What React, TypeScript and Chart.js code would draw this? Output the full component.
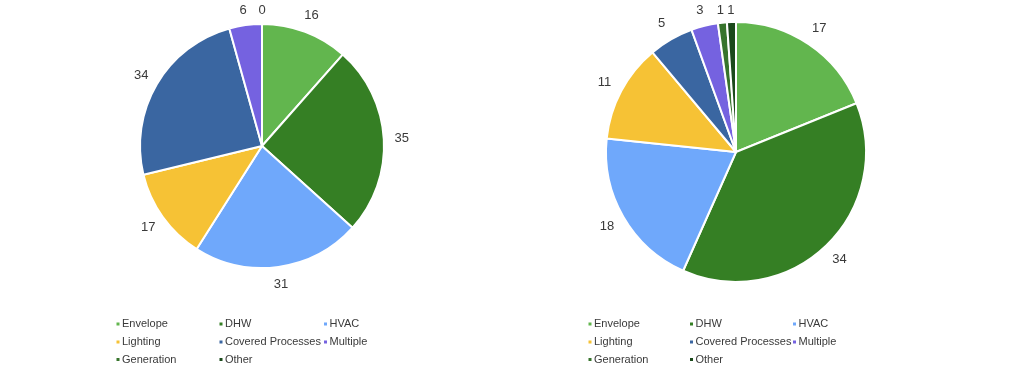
import React, { useEffect, useRef } from "react";
import { Chart, registerables } from "chart.js";

Chart.register(...registerables);

const categories = [
  "Envelope",
  "DHW",
  "HVAC",
  "Lighting",
  "Covered Processes",
  "Multiple",
  "Generation",
  "Other",
];
const leftValues = [16, 35, 31, 17, 34, 6, 0, 0];
const rightValues = [17, 34, 18, 11, 5, 3, 1, 1];
const sliceColors = [
  "#62b64e",
  "#357f24",
  "#6fa8fb",
  "#f6c235",
  "#3a66a1",
  "#7562e0",
  "#37742c",
  "#1b4a1b",
];

const FONT = "'Liberation Sans', Arial, sans-serif";
const TEXT_COLOR = "#3a3a3a";

const outLabelsPlugin = {
  id: "outLabels",
  afterDatasetsDraw(chart: any, _args: any, opts: any) {
    const ctx = chart.ctx as CanvasRenderingContext2D;
    const meta = chart.getDatasetMeta(0);
    const data = chart.data.datasets[0].data as number[];
    const labels = chart.data.labels as string[];
    const colors = chart.data.datasets[0].backgroundColor as string[];
    ctx.save();
    // value labels
    ctx.font = `13px ${FONT}`;
    ctx.fillStyle = TEXT_COLOR;
    ctx.textAlign = "center";
    ctx.textBaseline = "middle";
    const drawn = new Set<string>();
    meta.data.forEach((arc: any, i: number) => {
      const p = arc.getProps(["x", "y", "startAngle", "endAngle", "outerRadius"], true);
      const mid = (p.startAngle + p.endAngle) / 2;
      const d = p.outerRadius + opts.gap;
      const x = p.x + Math.cos(mid) * d;
      let y = p.y + Math.sin(mid) * d;
      if (y < opts.minY) y = opts.minY;
      const key = `${Math.round(x)},${Math.round(y)},${data[i]}`;
      if (drawn.has(key)) return;
      drawn.add(key);
      ctx.fillText(String(data[i]), x, y);
    });
    // legend
    ctx.font = `11px ${FONT}`;
    ctx.textAlign = "left";
    labels.forEach((lab, i) => {
      const col = i % 3;
      const row = Math.floor(i / 3);
      const x = opts.legendX[col];
      const y = opts.legendY[row];
      ctx.fillStyle = colors[i];
      ctx.fillRect(x, y - 1.5, 3, 3);
      ctx.fillStyle = TEXT_COLOR;
      ctx.fillText(lab, x + 5.5, y);
    });
    ctx.restore();
  },
};

function PieCanvas(props: {
  values: number[];
  radius: number;
  padding: { left: number; right: number; top: number; bottom: number };
  legendX: number[];
  legendY: number[];
  gap: number;
  left: number;
}) {
  const ref = useRef<HTMLCanvasElement | null>(null);
  useEffect(() => {
    if (!ref.current) return;
    const chart = new Chart(ref.current, {
      type: "pie",
      data: {
        labels: categories,
        datasets: [
          {
            data: props.values,
            backgroundColor: sliceColors,
            borderColor: "#ffffff",
            borderWidth: 2,
          },
        ],
      },
      options: {
        responsive: false,
        animation: false,
        devicePixelRatio: 1,
        radius: props.radius,
        layout: { padding: props.padding },
        plugins: {
          legend: { display: false },
          tooltip: { enabled: false },
          outLabels: {
            gap: props.gap,
            minY: 10,
            legendX: props.legendX,
            legendY: props.legendY,
          },
        } as any,
      } as any,
      plugins: [outLabelsPlugin],
    });
    return () => chart.destroy();
  }, []);
  return (
    <canvas
      ref={ref}
      width={512}
      height={381}
      style={{ position: "absolute", left: props.left, top: 0, width: 512, height: 381 }}
    />
  );
}

export default function App() {
  return (
    <div
      style={{
        position: "fixed",
        left: 0,
        top: 0,
        width: 1024,
        height: 381,
        background: "#ffffff",
        overflow: "hidden",
      }}
    >
      <PieCanvas
        values={leftValues}
        radius={122}
        padding={{ left: 140, right: 128, top: 24, bottom: 113 }}
        legendX={[116.5, 219.5, 324]}
        legendY={[324, 342, 359.5]}
        gap={18}
        left={0}
      />
      <PieCanvas
        values={rightValues}
        radius={130}
        padding={{ left: 94, right: 158, top: 22, bottom: 99 }}
        legendX={[76.5, 178, 281]}
        legendY={[324, 342, 359.5]}
        gap={19}
        left={512}
      />
    </div>
  );
}
